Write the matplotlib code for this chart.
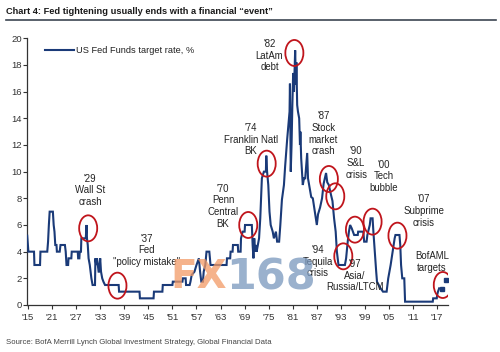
import matplotlib
matplotlib.use('Agg')
import matplotlib.pyplot as plt
from matplotlib.patches import Ellipse
from matplotlib.lines import Line2D
from matplotlib import font_manager as fm

# ---------------- data ----------------
years = [1914.8, 1915.1, 1916.5, 1916.6, 1918.0, 1918.1, 1919.8, 1920.0, 1920.2, 1920.4,
         1921.2, 1921.4, 1921.6, 1921.8, 1922.1, 1922.2, 1922.9, 1923.1, 1924.2, 1924.4,
         1924.5, 1924.6, 1925.0, 1925.1, 1925.8, 1925.9, 1927.4, 1927.5, 1927.8, 1927.9,
         1928.2, 1928.3, 1929.0, 1929.4, 1929.6, 1929.7, 1929.9, 1930.1, 1930.4, 1930.6,
         1930.8, 1931.1, 1931.7, 1931.8, 1932.0, 1932.2, 1932.6, 1932.7, 1933.0, 1933.2,
         1933.5, 1933.8, 1934.2, 1937.6, 1937.7, 1942.8, 1942.9, 1946.3, 1946.4, 1948.5,
         1948.6, 1951.0, 1951.1, 1953.5, 1953.6, 1954.3, 1954.4, 1955.3, 1955.5, 1955.8,
         1956.5, 1957.0, 1957.6, 1957.9, 1958.2, 1958.6, 1958.8, 1959.2, 1959.5, 1960.2,
         1960.5, 1964.5, 1964.6, 1965.4, 1965.5, 1966.0, 1966.1, 1967.3, 1967.4, 1968.0,
         1968.1, 1968.5, 1969.0, 1969.1, 1970.8, 1971.0, 1971.2, 1971.4, 1971.6, 1971.8,
         1972.0, 1972.3, 1972.6, 1972.9, 1973.3, 1973.8, 1974.3, 1974.4, 1974.6, 1974.9,
         1975.2, 1975.5, 1976.0, 1976.3, 1976.8, 1977.1, 1977.6, 1977.9, 1978.3, 1978.8,
         1979.1, 1979.6, 1980.2, 1980.3, 1980.5, 1980.7, 1980.9, 1981.1, 1981.3, 1981.6,
         1981.8, 1981.9, 1982.1, 1982.3, 1982.6, 1982.8, 1982.9, 1983.1, 1983.5, 1983.8,
         1984.1, 1984.6, 1984.8, 1985.2, 1985.6, 1986.0, 1986.5, 1987.0, 1987.3, 1987.8,
         1988.3, 1988.7, 1989.3, 1989.6, 1990.0, 1990.5, 1990.9, 1991.3, 1991.7, 1992.0,
         1992.4, 1994.0, 1994.3, 1994.7, 1995.0, 1995.3, 1995.7, 1996.0, 1996.3, 1997.2,
         1997.3, 1998.6, 1998.8, 1999.4, 1999.6, 2000.2, 2000.4, 2000.9, 2001.1, 2001.5,
         2001.8, 2002.0, 2002.9, 2003.5, 2004.4, 2004.8, 2005.4, 2005.9, 2006.4, 2006.6,
         2007.6, 2007.8, 2008.0, 2008.3, 2008.8, 2009.0, 2015.9, 2016.0, 2016.9, 2017.0,
         2017.2, 2017.5]
rates = [5.2, 4.0, 4.0, 3.0, 3.0, 4.0, 4.0, 4.75, 6.0, 7.0,
         7.0, 6.0, 5.5, 4.5, 4.5, 4.0, 4.0, 4.5, 4.5, 4.0,
         3.5, 3.0, 3.0, 3.5, 3.5, 4.0, 4.0, 3.5, 3.5, 4.0,
         4.0, 5.0, 5.0, 5.0, 6.0, 5.0, 4.5, 3.5, 3.0, 2.5,
         2.0, 1.5, 1.5, 3.5, 3.0, 3.5, 2.5, 2.5, 3.5, 2.5,
         2.0, 1.75, 1.5, 1.5, 1.0, 1.0, 0.5, 0.5, 1.0, 1.0,
         1.5, 1.5, 1.75, 1.75, 2.0, 2.0, 1.5, 1.5, 1.75, 2.25,
         2.5, 3.0, 3.5, 2.5, 1.75, 1.75, 2.5, 3.0, 4.0, 4.0,
         3.0, 3.0, 3.5, 3.5, 4.0, 4.0, 4.5, 4.5, 4.0, 4.0,
         5.0, 5.5, 5.5, 6.0, 6.0, 4.5, 3.5, 5.0, 4.0, 4.5,
         4.0, 4.5, 5.0, 6.5, 9.5, 10.0, 10.0, 11.2, 10.0, 9.0,
         7.0, 6.0, 5.5, 5.0, 5.5, 4.75, 4.75, 6.0, 7.9, 9.0,
         10.4, 12.4, 14.5, 16.6, 10.0, 12.0, 15.0, 17.4, 16.0, 19.1,
         16.5, 18.2, 15.0, 14.5, 14.0, 12.0, 13.0, 11.0, 9.0, 9.5,
         9.5, 11.4, 9.5, 8.8, 8.1, 8.0, 7.0, 6.0, 6.8, 7.3,
         8.0, 9.1, 9.9, 9.2, 9.0, 8.3, 7.8, 6.5, 5.5, 4.0,
         3.0, 3.0, 3.5, 4.75, 5.5, 6.0, 5.75, 5.5, 5.25, 5.25,
         5.5, 5.5, 4.75, 4.75, 5.25, 6.0, 6.5, 6.5, 5.5, 3.75,
         2.5, 1.75, 1.25, 1.0, 1.0, 2.0, 3.0, 4.0, 5.0, 5.25,
         5.25, 4.5, 3.0, 2.0, 2.0, 0.25, 0.25, 0.5, 0.5, 0.75,
         1.0, 1.25]

target_years = [2018.2, 2019.2]
target_rates = [1.2, 1.9]

tick_years = [1915, 1921, 1927, 1933, 1939, 1945, 1951, 1957, 1963, 1969,
              1975, 1981, 1987, 1993, 1999, 2005, 2011, 2017]
tick_labels = ["'15", "'21", "'27", "'33", "'39", "'45", "'51", "'57", "'63", "'69",
               "'75", "'81", "'87", "'93", "'99", "'05", "'11", "'17"]

event_texts = ["'29\nWall St\ncrash", "'37\nFed\n\"policy mistake\"", "'70\nPenn\nCentral\nBK",
               "'74\nFranklin Natl\nBK", "'82\nLatAm\ndebt", "'87\nStock\nmarket\ncrash",
               "'90\nS&L\ncrisis", "'00\nTech\nbubble", "'07\nSubprime\ncrisis",
               "BofAML\ntargets", "'94\nTequila\ncrisis", "'97\nAsia/\nRussia/LTCM"]
event_text_xy = [(1930.5, 8.6), (1944.6, 4.1), (1963.6, 7.4), (1970.6, 12.4), (1975.2, 18.7),
                 (1988.6, 12.85), (1996.8, 10.65), (2003.6, 9.65), (2013.6, 7.05),
                 (2015.7, 3.25), (1987.2, 3.25), (1996.5, 2.2)]
circle_xy = [(1930.0, 5.75), (1937.3, 1.45), (1969.9, 6.0), (1974.5, 10.6), (1981.4, 18.9),
             (1990.0, 9.45), (1991.6, 8.15), (1993.6, 3.65), (1996.5, 5.65), (2000.9, 6.25),
             (2007.1, 5.2), (2018.4, 1.5)]

# ---------------- style ----------------
names = {f.name for f in fm.fontManager.ttflist}
NARROW = 'Liberation Sans Narrow' if 'Liberation Sans Narrow' in names else 'Liberation Sans'
plt.rcParams['font.family'] = [NARROW, 'DejaVu Sans']

NAVY = '#1a3a78'
RED = '#c0151c'
TXT = '#222222'

fig = plt.figure(figsize=(5.0, 3.52), dpi=100)
fig.patch.set_facecolor('white')
ax = fig.add_axes([27 / 500, 1 - 305 / 352, 421 / 500, (305 - 38.3) / 352])

ax.plot(years, rates, color=NAVY, lw=1.5, solid_joinstyle='miter', zorder=3,
        label='US Fed Funds target rate, %')
ax.plot(target_years, target_rates, ls='none', marker='s', ms=2.2, color=NAVY, zorder=3)

for (cx, cy) in circle_xy:
    ax.add_patch(Ellipse((cx, cy), width=4.5, height=1.95, fill=False, ec=RED, lw=1.3, zorder=4))

for txt, (tx, ty) in zip(event_texts, event_text_xy):
    ax.text(tx, ty, txt, ha='center', va='center', multialignment='center',
            fontsize=6.9, color=TXT, linespacing=1.22, zorder=5)

ax.set_xlim(1914.75, 2019.7)
ax.set_ylim(0, 20)
ax.set_yticks(range(0, 21, 2))
ax.set_xticks(tick_years)
ax.set_xticklabels(tick_labels)
for s in ['top', 'right']:
    ax.spines[s].set_visible(False)
for s in ['left', 'bottom']:
    ax.spines[s].set_color('#333333')
    ax.spines[s].set_linewidth(0.9)
ax.tick_params(axis='both', labelsize=6.8, colors='#333333', length=3, width=0.8)
ax.tick_params(axis='x', pad=3)
ax.tick_params(axis='y', pad=0.8)

leg = ax.legend(loc='upper left', bbox_to_anchor=(0.027, 0.995), frameon=False,
                fontsize=6.7, handlelength=3.1, handletextpad=0.2, borderaxespad=0.3)
for t in leg.get_texts():
    t.set_color(TXT)

# title & rule
fig.text(6.5 / 500, 1 - 11.5 / 352, 'Chart 4: Fed tightening usually ends with a financial \u201cevent\u201d',
         ha='left', va='center', fontsize=6.7, fontweight='bold', color='#1a1a1a')
fig.add_artist(Line2D([6 / 500, 496 / 500], [1 - 20 / 352] * 2, transform=fig.transFigure,
                      color='#3c4652', lw=1.2))

# source
fig.text(6.5 / 500, 1 - 343 / 352,
         'Source: BofA Merrill Lynch Global Investment Strategy, Global Financial Data',
         ha='left', va='center', fontsize=5.6, color='#444444')

# watermark
fig.text(170 / 500, 1 - 277 / 352, 'FX', fontsize=28, fontweight='bold', color='#f29a66',
         alpha=0.75, ha='left', va='center', family='DejaVu Sans', zorder=6)
fig.text(226 / 500, 1 - 277 / 352, '168', fontsize=31, fontweight='bold', color='#7897bd',
         alpha=0.75, ha='left', va='center', family='DejaVu Sans', zorder=6)

fig.savefig('out.png', dpi=100, facecolor='white')
